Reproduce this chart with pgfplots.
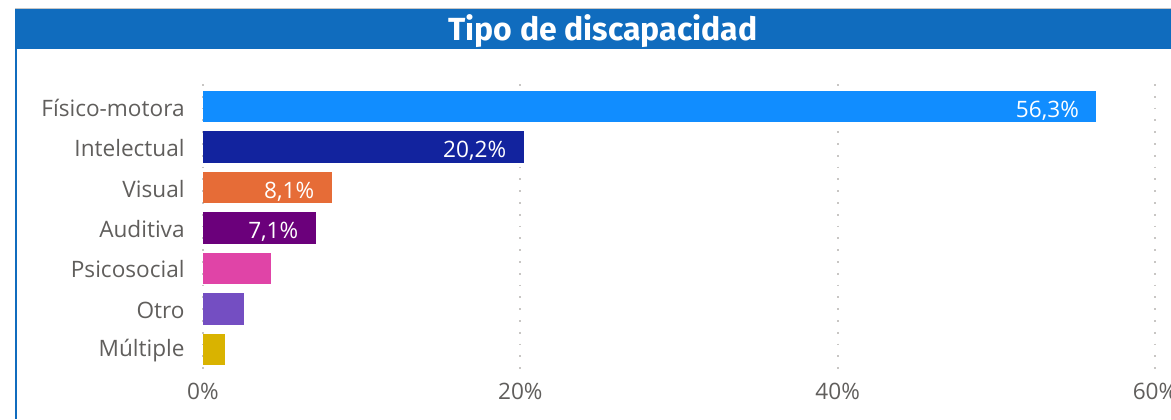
\documentclass[border=0pt]{standalone}
\usepackage{fontspec}
\setmainfont{Open Sans}
\newfontfamily\titlefont{Fira Sans}
\usepackage{pgfplots}
\pgfplotsset{compat=1.18}

\definecolor{frameblue}{HTML}{106CBE}
\definecolor{c1}{HTML}{118DFF}
\definecolor{c2}{HTML}{12239E}
\definecolor{c3}{HTML}{E66C37}
\definecolor{c4}{HTML}{6B007B}
\definecolor{c5}{HTML}{E044A7}
\definecolor{c6}{HTML}{744EC2}
\definecolor{c7}{HTML}{D9B300}
\definecolor{txtgray}{HTML}{605E5C}
\definecolor{gridgray}{HTML}{C8C6C4}

\pgfplotsset{
  lab/.style={
    point meta=x,
    nodes near coords={\pgfmathprintnumber[fixed,fixed zerofill,precision=1,use comma]{\pgfplotspointmeta}\%},
    every node near coord/.append style={anchor=east, text=white, inner sep=0pt,
      xshift=-8.5pt, yshift=-2pt, font=\fontsize{11.3}{13}\selectfont}
  }
}

\begin{document}
\begin{tikzpicture}
\path[use as bounding box] (0,0) rectangle (585.5pt,209.5pt);
% frame of the visual
\fill[gray!45] (7.5pt,205pt) rectangle (585.5pt,205.6pt);
\fill[frameblue] (7.5pt,185pt) rectangle (585.5pt,205pt);
\fill[frameblue] (7.5pt,0pt) rectangle (8.6pt,185pt);
\node[text=white, font=\titlefont\bfseries\fontsize{16}{19}\selectfont] at (301.5pt,194pt) {Tipo de discapacidad};

\begin{axis}[
  at={(101.5pt,25.25pt)}, anchor=south west,
  scale only axis, width=476pt, height=142.25pt,
  xbar, bar width=15.75pt, bar shift=0pt,
  xmin=0, xmax=60, ymin=-0.556, ymax=6.469, y dir=reverse,
  xtick={0,20,40,60}, xticklabels={0\%,20\%,40\%,60\%},
  ytick={0,1,2,3,4,5,6},
  yticklabels={Físico-motora,Intelectual,Visual,Auditiva,Psicosocial,Otro,Múltiple},
  axis line style={draw=none}, major tick length=0pt,
  xmajorgrids,
  grid style={gridgray, line width=0.9pt, dash pattern=on 0.9pt off 5pt},
  /pgf/number format/assume math mode=true,
  xticklabel style={anchor=north, inner sep=0pt, yshift=-7.25pt, text=txtgray, font=\fontsize{11.3}{13}\selectfont},
  yticklabel style={anchor=east, inner sep=0pt, xshift=-9pt, yshift=-0.5pt, text=txtgray, font=\fontsize{11.3}{13}\selectfont},
  clip=false,
]
\addplot[fill=c1, draw=none, lab] coordinates {(56.3,0)};
\addplot[fill=c2, draw=none, lab] coordinates {(20.2,1)};
\addplot[fill=c3, draw=none, lab] coordinates {(8.1,2)};
\addplot[fill=c4, draw=none, lab] coordinates {(7.1,3)};
\addplot[fill=c5, draw=none] coordinates {(4.3,4)};
\addplot[fill=c6, draw=none] coordinates {(2.6,5)};
\addplot[fill=c7, draw=none] coordinates {(1.4,6)};
\end{axis}
\end{tikzpicture}
\end{document}
